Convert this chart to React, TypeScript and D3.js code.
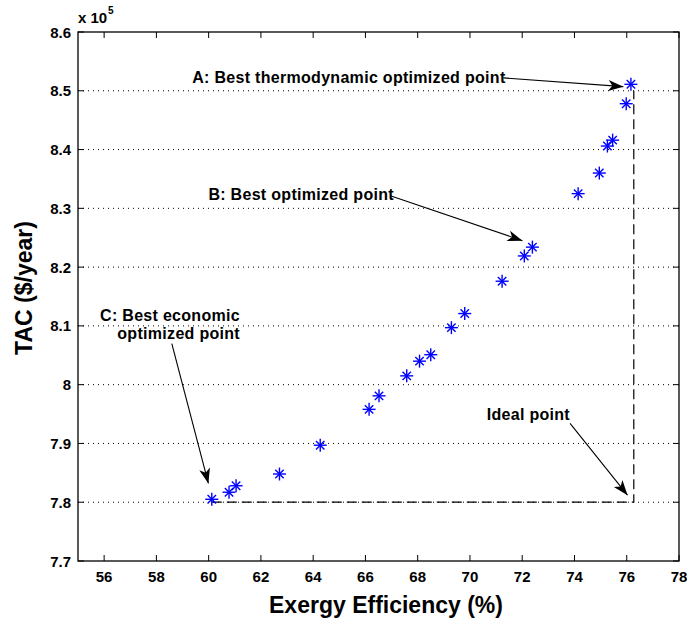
import React, { useEffect } from "react";
import * as d3 from "d3";

// Data
const efficiency = [60.12, 60.78, 61.05, 62.71, 64.27, 66.14, 66.52, 67.58, 68.07, 68.5, 69.29, 69.8, 71.23, 72.08, 72.39, 74.14, 74.95, 75.26, 75.46, 75.98, 76.16];
const tac = [7.805, 7.817, 7.828, 7.848, 7.897, 7.958, 7.981, 8.015, 8.04, 8.051, 8.097, 8.121, 8.176, 8.219, 8.234, 8.325, 8.36, 8.406, 8.416, 8.478, 8.511];

const xTicks = [56, 58, 60, 62, 64, 66, 68, 70, 72, 74, 76, 78];
const yTicks = [7.7, 7.8, 7.9, 8.0, 8.1, 8.2, 8.3, 8.4, 8.5, 8.6];
const gridTicks = [7.8, 7.9, 8.0, 8.1, 8.2, 8.3, 8.4, 8.5];

// Ideal-point reference lines (data units)
const idealX = [60.12, 76.27, 76.27];
const idealY = [7.8, 7.8, 8.5];

// Annotations (data units)
const annLines = [
  ["A: Best thermodynamic optimized point"],
  ["B: Best optimized point"],
  ["C: Best economic", "optimized point"],
  ["Ideal point"],
];
const annTextX = [59.37, 59.99, 61.2, 70.64];
const annTextY = [8.513, 8.314, 8.109, 7.94];
const annAnchor = ["start", "start", "end", "start"];
const arrowFrom = [
  [71.28, 8.522],
  [66.98, 8.321],
  [58.59, 8.07],
  [73.83, 7.934],
];
const arrowTo = [
  [75.87, 8.507],
  [72.01, 8.245],
  [59.99, 7.832],
  [76.03, 7.812],
];

const W = 687;
const H = 625;
const M = { left: 78, right: 8, top: 32, bottom: 64 };
const FONT = "'Liberation Sans', Arial, Helvetica, sans-serif";

export default function App() {
  useEffect(() => {
    document.body.style.margin = "0";
  }, []);

  const x = d3.scaleLinear().domain([55, 78]).range([M.left, W - M.right]);
  const y = d3.scaleLinear().domain([7.7, 8.6]).range([H - M.bottom, M.top]);
  const x0 = x.range()[0], x1 = x.range()[1];
  const y0 = y.range()[0], y1 = y.range()[1];

  const idealPath = d3
    .line<number>()
    .x((_, i) => x(idealX[i]))
    .y((_, i) => y(idealY[i]))(idealX);

  const arrowHead = (fx: number, fy: number, tx: number, ty: number) => {
    const ang = Math.atan2(ty - fy, tx - fx);
    const L = 15, Wd = 5.5, notch = 11;
    const cos = Math.cos(ang), sin = Math.sin(ang);
    const p = (a: number, b: number) => [tx - a * cos - b * -sin, ty - a * sin - b * cos];
    const pts = [[tx, ty], p(L, Wd), p(notch, 0), p(L, -Wd)];
    return "M" + pts.map((q) => q.join(",")).join("L") + "Z";
  };

  const star = (cx: number, cy: number, key: number) => {
    const a = 6.5, d = 4.2;
    return (
      <g key={key} stroke="#0000ff" strokeWidth={1.4}>
        <line x1={cx - a} y1={cy} x2={cx + a} y2={cy} />
        <line x1={cx} y1={cy - a} x2={cx} y2={cy + a} />
        <line x1={cx - d} y1={cy - d} x2={cx + d} y2={cy + d} />
        <line x1={cx - d} y1={cy + d} x2={cx + d} y2={cy - d} />
      </g>
    );
  };

  return (
    <svg width={W} height={H} style={{ display: "block", background: "#fff" }} fontFamily={FONT}>
      <rect x={0} y={0} width={W} height={H} fill="#fff" />
      {/* grid */}
      {gridTicks.map((t) => (
        <line key={"g" + t} x1={x0} x2={x1} y1={y(t)} y2={y(t)} stroke="#000" strokeWidth={1} strokeDasharray="1,4" />
      ))}
      {/* ideal lines */}
      <path d={idealPath || ""} fill="none" stroke="#000" strokeWidth={1.2} strokeDasharray="10,5" />
      {/* axes box */}
      <rect x={x0} y={y1} width={x1 - x0} height={y0 - y1} fill="none" stroke="#000" strokeWidth={1.3} />
      {/* x ticks */}
      {xTicks.map((t) => (
        <g key={"x" + t}>
          <line x1={x(t)} x2={x(t)} y1={y0} y2={y0 - 6} stroke="#000" />
          <line x1={x(t)} x2={x(t)} y1={y1} y2={y1 + 6} stroke="#000" />
          <text x={x(t)} y={y0 + 21} textAnchor="middle" fontSize={15} fontWeight="bold">
            {t}
          </text>
        </g>
      ))}
      {/* y ticks */}
      {yTicks.map((t) => (
        <g key={"y" + t}>
          <line x1={x0} x2={x0 + 6} y1={y(t)} y2={y(t)} stroke="#000" />
          <line x1={x1} x2={x1 - 6} y1={y(t)} y2={y(t)} stroke="#000" />
          <text x={x0 - 7} y={y(t) + 5.5} textAnchor="end" fontSize={15} fontWeight="bold">
            {d3.format(".2~f")(t)}
          </text>
        </g>
      ))}
      {/* exponent */}
      <text x={x0} y={23} fontSize={15} fontWeight="bold">
        x 10
      </text>
      <text x={x0 + 30} y={14} fontSize={10} fontWeight="bold">
        5
      </text>
      {/* axis labels */}
      <text x={386} y={613} textAnchor="middle" fontSize={23} fontWeight="bold">
        Exergy Efficiency (%)
      </text>
      <text transform={`translate(32,288) rotate(-90)`} textAnchor="middle" fontSize={23} fontWeight="bold">
        TAC ($/year)
      </text>
      {/* annotations */}
      {annLines.map((lines, i) => (
        <g key={"a" + i}>
          {lines.map((s, j) => (
            <text
              key={j}
              x={x(annTextX[i])}
              y={y(annTextY[i]) + j * 18.5}
              textAnchor={annAnchor[i]}
              fontSize={16}
              letterSpacing={0.3}
              fontWeight="bold"
            >
              {s}
            </text>
          ))}
          <line
            x1={x(arrowFrom[i][0])}
            y1={y(arrowFrom[i][1])}
            x2={x(arrowTo[i][0])}
            y2={y(arrowTo[i][1])}
            stroke="#000"
            strokeWidth={1.1}
          />
          <path d={arrowHead(x(arrowFrom[i][0]), y(arrowFrom[i][1]), x(arrowTo[i][0]), y(arrowTo[i][1]))} fill="#000" />
        </g>
      ))}
      {/* points */}
      {efficiency.map((e, i) => star(x(e), y(tac[i]), i))}
    </svg>
  );
}
